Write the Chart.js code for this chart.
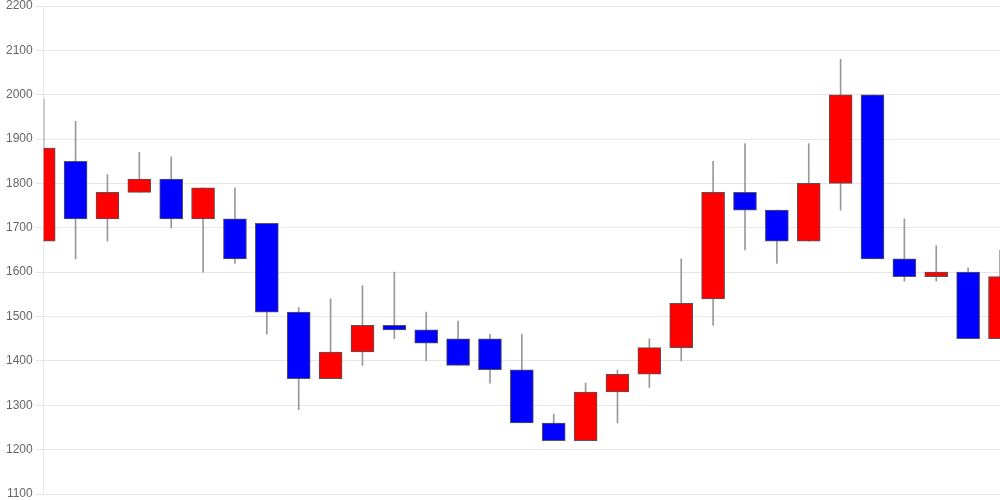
<!DOCTYPE html>
<html>
<head>
<meta charset="utf-8">
<script src="https://cdn.jsdelivr.net/npm/chart.js@4"></script>
<style>
  html, body { margin: 0; padding: 0; background: #fff; }
  #wrap { width: 1000px; height: 500px; }
</style>
</head>
<body>
<div id="wrap"><canvas id="chart"></canvas></div>
<script>
// daily candles
const days = ["1","2","3","4","5","6","7","8","9","10","11","12","13","14","15","16",
              "17","18","19","20","21","22","23","24","25","26","27","28","29","30","31"];
const opens  = [1670,1850,1720,1780,1810,1720,1720,1710,1510,1360,1420,1480,1470,1450,1450,1380,
                1260,1220,1330,1370,1430,1540,1780,1740,1670,1800,2000,1630,1590,1600,1450];
const closes = [1880,1720,1780,1810,1720,1790,1630,1510,1360,1420,1480,1470,1440,1390,1380,1260,
                1220,1330,1370,1430,1530,1780,1740,1670,1800,2000,1630,1590,1600,1450,1590];
const highs  = [1990,1940,1820,1870,1860,1790,1790,1710,1520,1540,1570,1600,1510,1490,1460,1460,
                1280,1350,1380,1450,1630,1850,1890,1740,1890,2080,2000,1720,1660,1610,1650];
const lows   = [1670,1630,1670,1780,1700,1600,1620,1460,1290,1360,1390,1450,1400,1390,1350,1260,
                1220,1220,1260,1340,1400,1480,1650,1620,1670,1740,1630,1580,1580,1450,1450];
const yTicks = [1100, 2200, 100]; // min, max, step

const upColor = "#ff0000";
const downColor = "#0000ff";

const bodies = opens.map((o, i) => [o, closes[i]]);
const wicks = lows.map((l, i) => [l, highs[i]]);
const colors = opens.map((o, i) => closes[i] >= o ? upColor : downColor);

new Chart(document.getElementById("chart"), {
  type: "bar",
  data: {
    labels: days,
    datasets: [
      {
        label: "body",
        data: bodies,
        backgroundColor: colors,
        borderColor: "#555",
        borderWidth: 1,
        borderSkipped: false,
        barThickness: 23,
        grouped: false,
        order: 0,
        clip: 0
      },
      {
        label: "wick",
        data: wicks,
        backgroundColor: "#999",
        borderWidth: 0,
        barThickness: 1,
        grouped: false,
        order: 1,
        clip: 0
      }
    ]
  },
  options: {
    responsive: true,
    maintainAspectRatio: false,
    animation: false,
    layout: { padding: { left: 3 } },
    plugins: { legend: { display: false }, tooltip: { enabled: false } },
    scales: {
      x: { display: false, offset: false },
      y: {
        min: yTicks[0],
        max: yTicks[1],
        ticks: {
          stepSize: yTicks[2],
          color: "#666",
          font: { family: "Arial, 'Liberation Sans'", size: 12, lineHeight: 0.5 },
          callback: v => String(v)
        },
        grid: { color: "#e6e6e6" },
        border: { color: "#e6e6e6" }
      }
    }
  }
});
</script>
</body>
</html>
